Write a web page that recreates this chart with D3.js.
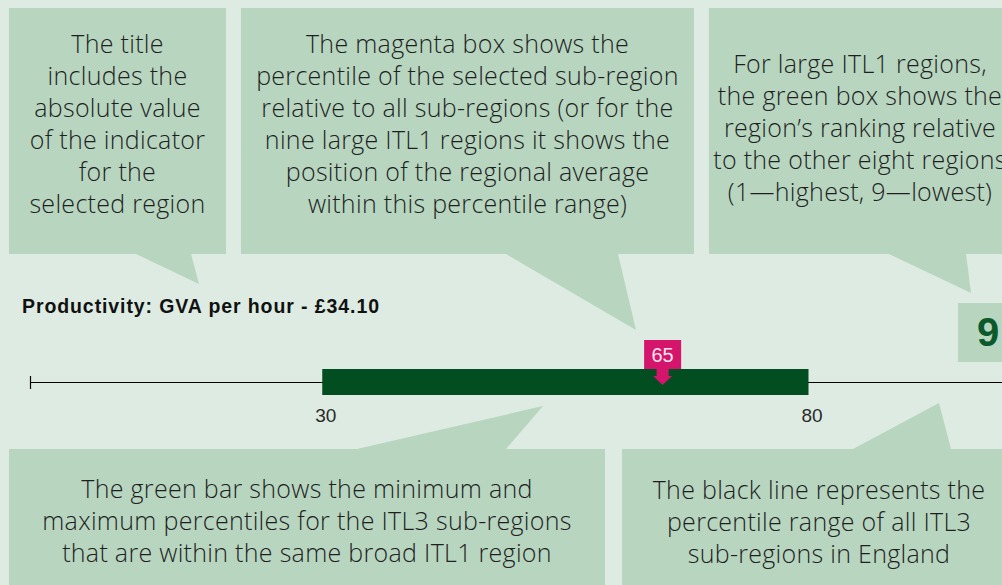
<!DOCTYPE html>
<html>
<head>
<meta charset="utf-8">
<script src="https://cdn.jsdelivr.net/npm/d3@7"></script>
<style>
  html, body { margin: 0; padding: 0; background: #deebe2; overflow: hidden; }
  svg { display: block; }
</style>
</head>
<body>
<svg id="chart" width="1002" height="585"></svg>
<script>
// ---------------- DATA ----------------
const indicatorName = "Productivity: GVA per hour";
const indicatorValue = "£34.10";
const englandRange = [0, 100];      // percentile range of all ITL3 sub-regions (black line)
const regionRange = [30, 80];       // min / max percentile within ITL1 region (green bar)
const selectedPercentile = [65];    // magenta marker
const regionRank = [9];             // green box
const tickValues = [30, 80];        // tick labels shown under the bar

const calloutTitle = ["The title", "includes the", "absolute value", "of the indicator", "for the", "selected region"];
const calloutMagenta = ["The magenta box shows the", "percentile of the selected sub-region", "relative to all sub-regions (or for the", "nine large ITL1 regions it shows the", "position of the regional average", "within this percentile range)"];
const calloutRank = ["For large ITL1 regions,", "the green box shows the", "region\u2019s ranking relative", "to the other eight regions", "(1\u2014highest, 9\u2014lowest)"];
const calloutBar = ["The green bar shows the minimum and", "maximum percentiles for the ITL3 sub-regions", "that are within the same broad ITL1 region"];
const calloutLine = ["The black line represents the", "percentile range of all ITL3", "sub-regions in England"];

// ---------------- LAYOUT ----------------
const W = 1002, H = 585;
const C = {
  bg: "#deebe2", box: "#b7d5bf", text: "#1f1f1f",
  bar: "#034e21", magenta: "#d5156b", magentaText: "#fde6ef", rank: "#0b5a2b"
};
const svg = d3.select("#chart");
svg.append("rect").attr("width", W).attr("height", H).attr("fill", C.bg);

const x = d3.scaleLinear().domain([0, 100]).range([30.5, 1003]);
const lineY = 382.5;

// callouts: box + pointer triangle (base on box edge, tip at target)
const callouts = [
  { lines: calloutTitle,   box: [9, 8, 226, 254],   ptr: [[136, 254], [191, 254], [199, 284]], base: 53, cx: 117.5 },
  { lines: calloutMagenta, box: [241, 8, 694, 254], ptr: [[506, 254], [618, 254], [636, 330]], base: 53, cx: 467.5 },
  { lines: calloutRank,    box: [709, 8, 1011, 254], ptr: [[889, 254], [966, 254], [971, 293]], base: 73, cx: 860 },
  { lines: calloutBar,     box: [9, 449, 605, 600], ptr: [[357, 449], [506, 449], [543, 406]], base: 498, cx: 307 },
  { lines: calloutLine,    box: [622, 449, 1016, 600], ptr: [[853, 449], [951, 449], [939, 403]], base: 499, cx: 819 }
];
const cg = svg.append("g").attr("class", "callouts");
callouts.forEach(c => {
  const [x0, y0, x1, y1] = c.box;
  cg.append("rect").attr("x", x0).attr("y", y0).attr("width", x1 - x0).attr("height", y1 - y0).attr("fill", C.box);
  cg.append("path").attr("d", d3.line()(c.ptr) + "Z").attr("fill", C.box);
  const t = cg.append("text")
    .attr("text-anchor", "middle")
    .attr("font-family", "'Open Sans', Lato, sans-serif")
    .attr("font-weight", 300)
    .attr("font-size", 25)
    .attr("letter-spacing", 0.3)
    .attr("fill", C.text);
  c.lines.forEach((l, i) => {
    t.append("tspan").attr("x", c.cx).attr("y", c.base + i * 32).text(l);
  });
});

// title
svg.append("text")
  .attr("x", 22).attr("y", 313)
  .attr("font-family", "'Liberation Sans', Arial, sans-serif")
  .attr("font-weight", "bold").attr("font-size", 19.5)
  .attr("textLength", 357).attr("lengthAdjust", "spacing")
  .attr("fill", "#111")
  .text(indicatorName + " - " + indicatorValue);

// england line
const g = svg.append("g");
g.append("line")
  .attr("x1", x(englandRange[0])).attr("x2", x(englandRange[1]))
  .attr("y1", lineY).attr("y2", lineY)
  .attr("stroke", "#000").attr("stroke-width", 1.2);
g.append("line")
  .attr("x1", x(englandRange[0])).attr("x2", x(englandRange[0]))
  .attr("y1", lineY - 6.5).attr("y2", lineY + 6.5)
  .attr("stroke", "#000").attr("stroke-width", 1.2);

// green bar
g.append("rect")
  .attr("x", x(regionRange[0])).attr("y", 369)
  .attr("width", x(regionRange[1]) - x(regionRange[0])).attr("height", 26)
  .attr("fill", C.bar);

// tick labels
const axis = d3.axisBottom(x).tickValues(tickValues).tickSize(0).tickPadding(0);
const ag = svg.append("g").attr("transform", "translate(0,408)").call(axis);
ag.select(".domain").remove();
ag.selectAll("text")
  .attr("dy", 0).attr("y", 14).attr("dx", 3)
  .attr("font-family", "'Liberation Sans', Arial, sans-serif")
  .attr("font-size", 19).attr("fill", "#2a2a2a");

// magenta marker
selectedPercentile.forEach(p => {
  const mx = x(p);
  const mg = svg.append("g");
  mg.append("rect").attr("x", mx - 18.5).attr("y", 340).attr("width", 37).attr("height", 29).attr("fill", C.magenta);
  mg.append("path")
    .attr("d", d3.line()([[mx - 6, 369], [mx + 6, 369], [mx + 6, 376], [mx + 9.5, 376], [mx, 385], [mx - 9.5, 376], [mx - 6, 376]]) + "Z")
    .attr("fill", C.magenta);
  mg.append("text").attr("x", mx).attr("y", 362)
    .attr("text-anchor", "middle")
    .attr("font-family", "'Liberation Sans', Arial, sans-serif")
    .attr("font-size", 20).attr("fill", C.magentaText)
    .text(p);
});

// rank box
regionRank.forEach(r => {
  svg.append("rect").attr("x", 958).attr("y", 303).attr("width", 60).attr("height", 59).attr("fill", C.box);
  svg.append("text").attr("x", 988).attr("y", 346)
    .attr("text-anchor", "middle")
    .attr("font-family", "'Liberation Sans', Arial, sans-serif")
    .attr("font-weight", "bold").attr("font-size", 40)
    .attr("fill", C.rank)
    .text(r);
});
</script>
</body>
</html>
